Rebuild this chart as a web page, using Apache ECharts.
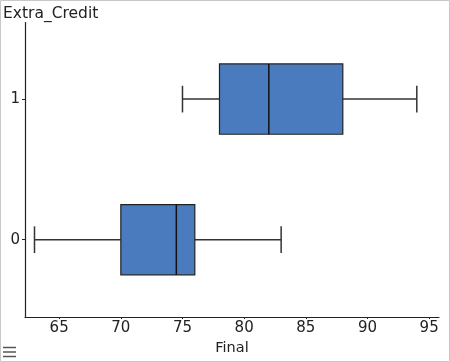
<!DOCTYPE html>
<html>
<head>
<meta charset="utf-8">
<script src="https://cdn.jsdelivr.net/npm/echarts@6/dist/echarts.min.js"></script>
<style>
html,body{margin:0;padding:0;background:#fff;}
#chart{width:450px;height:362px;}
</style>
</head>
<body>
<div id="chart"></div>
<script>
// Data
var categories = [0, 1];
var mins    = [63, 75];
var q1s     = [70, 78];
var medians = [74.5, 82];
var q3s     = [76, 88];
var maxs    = [83, 94];
var xTicks = [65, 70, 75, 80, 85, 90, 95];
var yTicks = [0, 1];

var data = categories.map(function (c, i) {
  return [c, mins[i], q1s[i], medians[i], q3s[i], maxs[i]];
});

var chart = echarts.init(document.getElementById('chart'), null, {renderer: 'canvas'});
var FONT = 'DejaVu Sans';
var BOX_HALF = 0.25, CAP_HALF = 0.095;

function renderItem(params, api) {
  var c = api.value(0);
  var mn = api.value(1), q1 = api.value(2), md = api.value(3), q3 = api.value(4), mx = api.value(5);
  var pMin = api.coord([mn, c]), pQ1 = api.coord([q1, c]), pMd = api.coord([md, c]),
      pQ3 = api.coord([q3, c]), pMax = api.coord([mx, c]);
  var top = api.coord([q1, c + BOX_HALF])[1], bot = api.coord([q1, c - BOX_HALF])[1];
  var ct = api.coord([mn, c + CAP_HALF])[1], cb = api.coord([mn, c - CAP_HALF])[1];
  var lineStyle = {stroke: '#333', lineWidth: 1.5, fill: null};
  return {
    type: 'group',
    children: [
      {type: 'line', shape: {x1: pMin[0], y1: pMin[1], x2: pQ1[0], y2: pQ1[1]}, style: lineStyle},
      {type: 'line', shape: {x1: pQ3[0], y1: pQ3[1], x2: pMax[0], y2: pMax[1]}, style: lineStyle},
      {type: 'line', shape: {x1: pMin[0], y1: ct, x2: pMin[0], y2: cb}, style: lineStyle},
      {type: 'line', shape: {x1: pMax[0], y1: ct, x2: pMax[0], y2: cb}, style: lineStyle},
      {type: 'rect', shape: {x: pQ1[0], y: top, width: pQ3[0] - pQ1[0], height: bot - top},
        style: {fill: '#4a7bbf', stroke: '#222', lineWidth: 1.2}},
      {type: 'line', shape: {x1: pMd[0], y1: top, x2: pMd[0], y2: bot}, style: {stroke: '#111', lineWidth: 1.5}}
    ]
  };
}

var option = {
  backgroundColor: '#fff',
  animation: false,
  grid: {left: 24.5, right: 11, top: 22.5, bottom: 45, containLabel: false},
  xAxis: {
    type: 'value',
    min: 62.23, max: 95.8,
    name: 'Final',
    nameLocation: 'middle',
    nameGap: 22,
    nameTextStyle: {fontFamily: FONT, fontSize: 14.5, color: '#222'},
    splitLine: {show: false},
    axisLine: {show: true, onZero: false, lineStyle: {color: '#222', width: 1.2}},
    axisTick: {show: true, inside: false, length: 2, customValues: xTicks, lineStyle: {color: '#222'}},
    axisLabel: {customValues: xTicks, fontFamily: FONT, fontSize: 15, color: '#222', margin: 4}
  },
  yAxis: {
    type: 'value',
    min: -0.55, max: 1.545,
    name: 'Extra_Credit',
    nameLocation: 'end',
    nameGap: 1,
    nameTextStyle: {fontFamily: FONT, fontSize: 15.5, color: '#222', align: 'left', padding: [0, 0, 0, -22]},
    splitLine: {show: false},
    axisLine: {show: true, onZero: false, lineStyle: {color: '#222', width: 1.2}},
    axisTick: {show: true, length: 3, customValues: yTicks, lineStyle: {color: '#222'}},
    axisLabel: {customValues: yTicks, fontFamily: FONT, fontSize: 15, color: '#222', margin: 5}
  },
  graphic: [
    {type: 'rect', silent: true, shape: {x: 0.5, y: 0.5, width: 449, height: 361},
      style: {fill: null, stroke: '#c8c8c8', lineWidth: 1}},
    {type: 'group', silent: true, children: [
      {type: 'line', shape: {x1: 3, y1: 347.5, x2: 16, y2: 347.5}, style: {stroke: '#555', lineWidth: 1.5}},
      {type: 'line', shape: {x1: 3, y1: 352, x2: 16, y2: 352}, style: {stroke: '#555', lineWidth: 1.5}},
      {type: 'line', shape: {x1: 3, y1: 356.5, x2: 16, y2: 356.5}, style: {stroke: '#555', lineWidth: 1.5}}
    ]}
  ],
  series: [{
    type: 'custom',
    renderItem: renderItem,
    encode: {x: [1, 2, 3, 4, 5], y: 0},
    data: data
  }]
};
chart.setOption(option);
</script>
</body>
</html>
